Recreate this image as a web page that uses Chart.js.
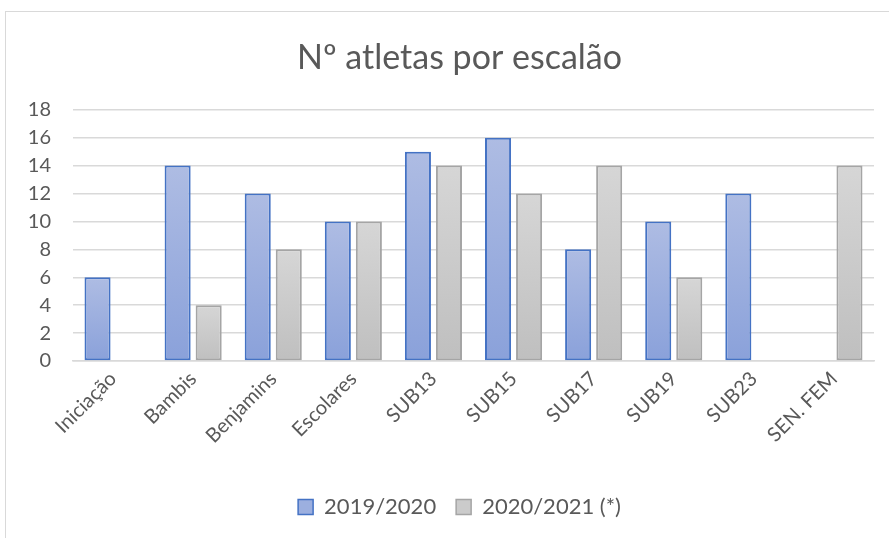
<!DOCTYPE html>
<html>
<head>
<meta charset="utf-8">
<script src="https://cdn.jsdelivr.net/npm/chart.js@4"></script>
<style>
  html, body { margin: 0; padding: 0; background: #fff; }
  #wrap { position: relative; width: 889px; height: 538px; overflow: hidden; }
  #frame { position: absolute; left: 5px; top: 11px; width: 1000px; height: 1000px;
           border-left: 1px solid #d9d9d9; border-top: 1px solid #d9d9d9; }
  canvas { position: absolute; left: 0; top: 0; }
</style>
</head>
<body>
<div id="wrap">
  <div id="frame"></div>
  <canvas id="grafico" width="924" height="538"></canvas>
</div>
<script>
// dados
const escaloes = ['Iniciação', 'Bambis', 'Benjamins', 'Escolares', 'SUB13', 'SUB15', 'SUB17', 'SUB19', 'SUB23', 'SEN. FEM'];
const epoca1920 = [6, 14, 12, 10, 15, 16, 8, 10, 12, null];
const epoca2021 = [null, 4, 8, 10, 14, 12, 14, 6, null, 14];
const yTicks = [0, 2, 4, 6, 8, 10, 12, 14, 16, 18];

const cinza = '#595959';

// gradiente por barra, como no Excel
function gradiente(topo, base, solido) {
  return (ctx) => {
    const chart = ctx.chart;
    const y = chart.scales && chart.scales.y;
    if (!chart.chartArea || !y || ctx.raw == null) return solido;
    const t = y.getPixelForValue(ctx.raw);
    const b = y.getPixelForValue(0);
    if (!isFinite(t) || !isFinite(b) || t === b) return solido;
    const g = chart.ctx.createLinearGradient(0, t, 0, b);
    g.addColorStop(0, topo);
    g.addColorStop(1, base);
    return g;
  };
}

const ctx = document.getElementById('grafico');
const myChart = new Chart(ctx, {
  type: 'bar',
  data: {
    labels: escaloes,
    datasets: [{
      label: '2019/2020',
      data: epoca1920,
      backgroundColor: gradiente('#aebce3', '#8aa1da', '#9cafdf'),
      borderColor: '#4472c4',
      borderWidth: 2,
      borderSkipped: false,
      categoryPercentage: 0.775,
      barPercentage: 0.84
    }, {
      label: '2020/2021 (*)',
      data: epoca2021,
      backgroundColor: gradiente('#d6d6d6', '#bfbfbf', '#cbcbcb'),
      borderColor: '#a5a5a5',
      borderWidth: 2,
      borderSkipped: false,
      categoryPercentage: 0.775,
      barPercentage: 0.84
    }]
  },
  options: {
    responsive: false,
    animation: false,
    layout: { padding: { top: 0, left: 10, right: 15, bottom: 10 } },
    plugins: {
      title: {
        display: true,
        text: 'Nº atletas por escalão',
        color: cinza,
        font: { family: 'Lato', size: 34, weight: 'normal' },
        padding: { top: 38, bottom: 31 }
      },
      legend: {
        position: 'bottom',
        labels: {
          color: cinza,
          font: { family: 'Lato', size: 22 },
          boxWidth: 15,
          boxHeight: 15,
          padding: 20,
          generateLabels: (chart) => chart.data.datasets.map((ds, i) => ({
            text: ds.label,
            fillStyle: i === 0 ? '#9cafdf' : '#cbcbcb',
            strokeStyle: ds.borderColor,
            lineWidth: 1.5,
            fontColor: cinza,
            datasetIndex: i
          }))
        }
      },
      tooltip: { enabled: false }
    },
    scales: {
      x: {
        grid: { display: false, drawTicks: false },
        border: { color: '#d9d9d9', width: 1.5 },
        ticks: {
          color: cinza,
          font: { family: 'Lato', size: 20 },
          minRotation: 45,
          maxRotation: 45,
          padding: 6
        },
        afterFit: (s) => { s.height = 115; }
      },
      y: {
        min: 0,
        max: 18,
        afterBuildTicks: (s) => { s.ticks = yTicks.map((v) => ({ value: v })); },
        grid: { color: '#d9d9d9', lineWidth: 1.5, drawTicks: false },
        border: { display: false },
        ticks: {
          color: cinza,
          font: { family: 'Lato', size: 20 },
          padding: 22
        },
        afterFit: (s) => { s.width = 63; }
      },
      // espaço vazio à direita da área do gráfico
      margem: {
        position: 'right',
        display: true,
        grid: { display: false, drawTicks: false },
        border: { display: false },
        ticks: { display: false },
        afterFit: (s) => { s.width = 35; }
      }
    }
  }
});
</script>
</body>
</html>
